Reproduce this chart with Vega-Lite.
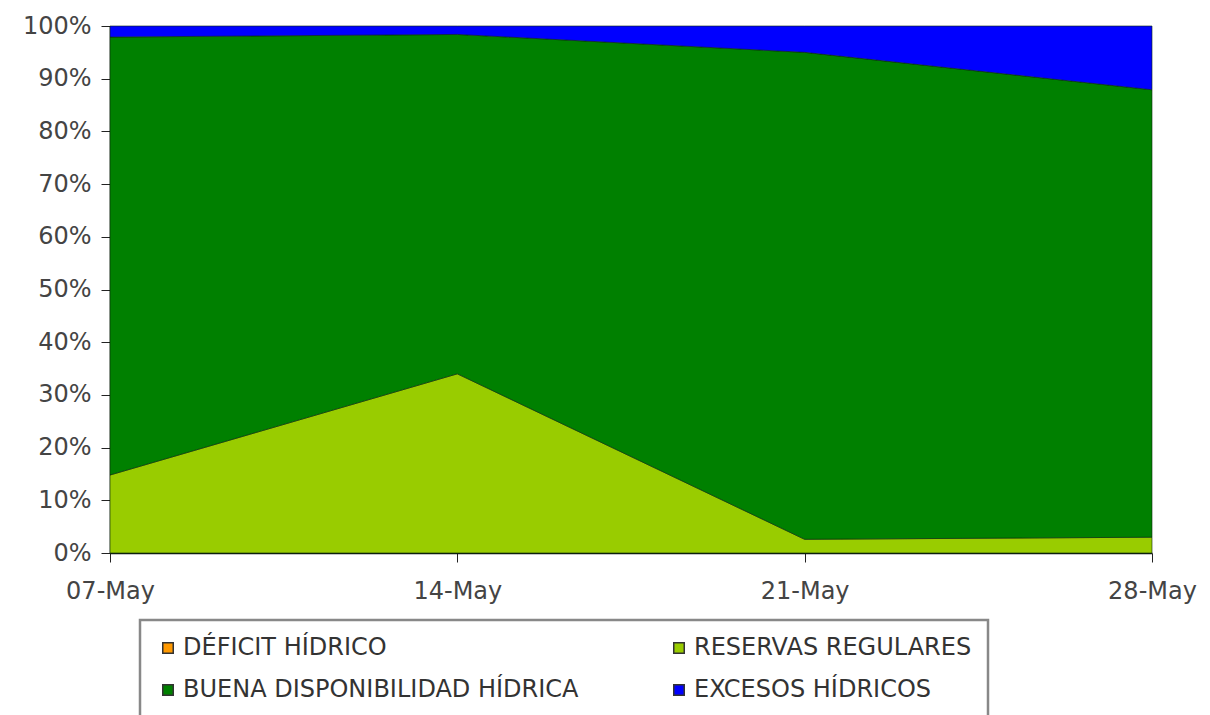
{
  "$schema": "https://vega.github.io/schema/vega-lite/v6.json",
  "autosize": "none",
  "width": 1042,
  "height": 527,
  "padding": {"left": 110, "top": 26, "right": 58, "bottom": 162},
  "background": "white",
  "config": {
    "view": {"stroke": null},
    "font": "DejaVu Sans"
  },
  "data": {
    "values": [
      {"fecha": "07-May", "serie": "DÉFICIT HÍDRICO", "orden": 0, "valor": 0},
      {"fecha": "07-May", "serie": "RESERVAS REGULARES", "orden": 1, "valor": 14.8},
      {"fecha": "07-May", "serie": "BUENA DISPONIBILIDAD HÍDRICA", "orden": 2, "valor": 83.1},
      {"fecha": "07-May", "serie": "EXCESOS HÍDRICOS", "orden": 3, "valor": 2.1},
      {"fecha": "14-May", "serie": "DÉFICIT HÍDRICO", "orden": 0, "valor": 0},
      {"fecha": "14-May", "serie": "RESERVAS REGULARES", "orden": 1, "valor": 34.0},
      {"fecha": "14-May", "serie": "BUENA DISPONIBILIDAD HÍDRICA", "orden": 2, "valor": 64.4},
      {"fecha": "14-May", "serie": "EXCESOS HÍDRICOS", "orden": 3, "valor": 1.6},
      {"fecha": "21-May", "serie": "DÉFICIT HÍDRICO", "orden": 0, "valor": 0},
      {"fecha": "21-May", "serie": "RESERVAS REGULARES", "orden": 1, "valor": 2.6},
      {"fecha": "21-May", "serie": "BUENA DISPONIBILIDAD HÍDRICA", "orden": 2, "valor": 92.4},
      {"fecha": "21-May", "serie": "EXCESOS HÍDRICOS", "orden": 3, "valor": 5.0},
      {"fecha": "28-May", "serie": "DÉFICIT HÍDRICO", "orden": 0, "valor": 0},
      {"fecha": "28-May", "serie": "RESERVAS REGULARES", "orden": 1, "valor": 3.0},
      {"fecha": "28-May", "serie": "BUENA DISPONIBILIDAD HÍDRICA", "orden": 2, "valor": 84.9},
      {"fecha": "28-May", "serie": "EXCESOS HÍDRICOS", "orden": 3, "valor": 12.1}
    ]
  },
  "mark": {"type": "area", "stroke": "#0a2a0a", "strokeWidth": 1, "strokeOpacity": 0.6},
  "encoding": {
    "x": {
      "field": "fecha",
      "type": "ordinal",
      "sort": ["07-May", "14-May", "21-May", "28-May"],
      "scale": {"type": "point", "padding": 0},
      "axis": {
        "title": null,
        "labelAngle": 0,
        "labelFontSize": 24,
        "labelColor": "#444",
        "labelPadding": 17,
        "tickSize": 9,
        "tickColor": "#222",
        "domainColor": "#111",
        "domainWidth": 1.5,
        "grid": false
      }
    },
    "y": {
      "field": "valor",
      "type": "quantitative",
      "stack": "normalize",
      "scale": {"domain": [0, 1]},
      "axis": {
        "title": null,
        "format": ".0%",
        "values": [0, 0.1, 0.2, 0.3, 0.4, 0.5, 0.6, 0.7, 0.8, 0.9, 1],
        "labelFontSize": 24,
        "labelColor": "#444",
        "labelPadding": 10,
        "tickSize": 9,
        "tickColor": "#222",
        "domainColor": "#111",
        "domainWidth": 1.5,
        "grid": false
      }
    },
    "color": {
      "field": "serie",
      "type": "nominal",
      "scale": {
        "domain": ["DÉFICIT HÍDRICO", "BUENA DISPONIBILIDAD HÍDRICA", "RESERVAS REGULARES", "EXCESOS HÍDRICOS"],
        "range": ["#FF9900", "#008000", "#99CC00", "#0000FF"]
      },
      "legend": {
        "title": null,
        "orient": "none",
        "legendX": 30,
        "legendY": 594,
        "columns": 2,
        "columnPadding": 88,
        "rowPadding": 18,
        "padding": 16,
        "strokeColor": "#888",
        "symbolType": "square",
        "symbolSize": 110,
        "symbolStrokeColor": "#333",
        "symbolStrokeWidth": 1.5,
        "symbolOpacity": 1,
        "labelFontSize": 24,
        "labelColor": "#333",
        "labelOffset": 3,
        "labelLimit": 700,
        "encode": {"legend": {"update": {"strokeWidth": {"value": 2.5}}}}
      }
    },
    "order": {"field": "orden", "type": "quantitative"}
  }
}
